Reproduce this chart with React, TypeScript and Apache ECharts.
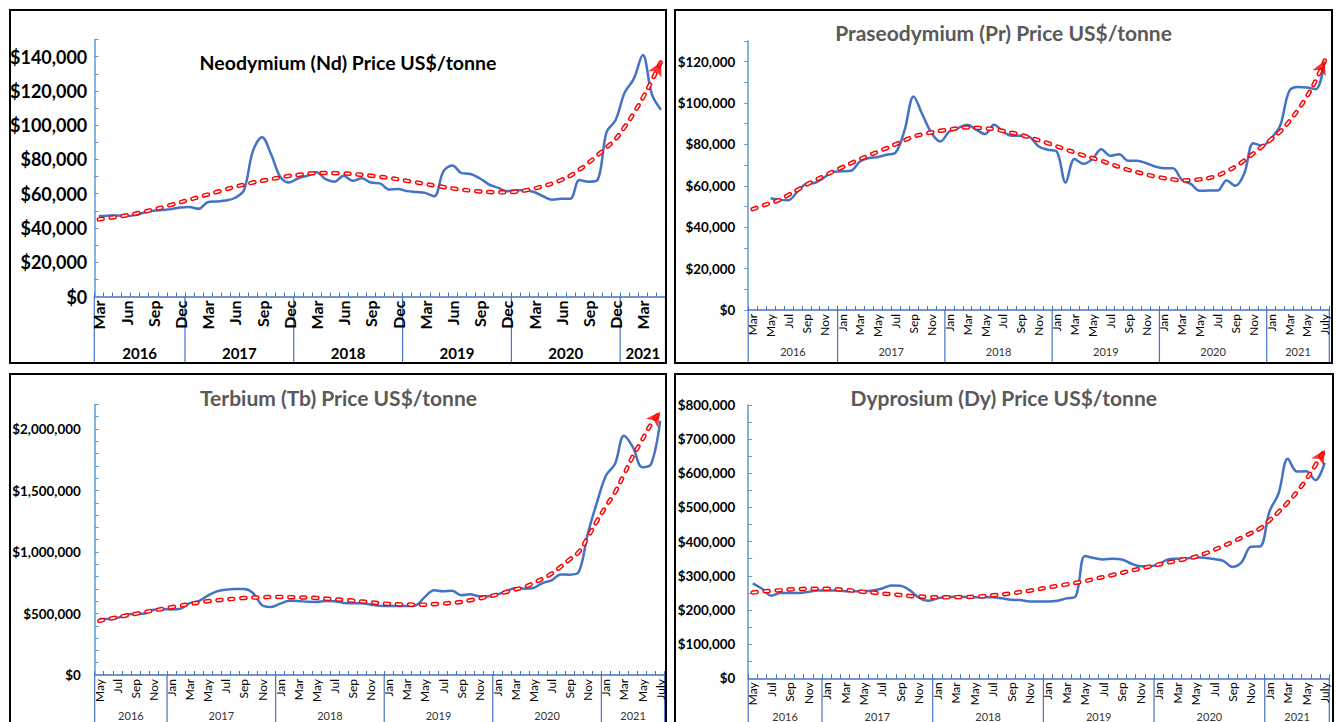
import React, { useEffect, useRef } from "react";
import * as echarts from "echarts";

const MONTH_LABELS = ["Jan", "Feb", "Mar", "Apr", "May", "Jun", "Jul", "Aug", "Sep", "Oct", "Nov", "Dec"];

// Neodymium: Mar 2016 – May 2021
const ndPrice = [
  47000, 47200, 47300, 47000, 47500, 49000, 50000, 50500, 51000, 52000,
  52200, 51200, 55000, 55500, 56000, 57500, 62000, 85000, 93000, 83000, 70000, 66500,
  69000, 70500, 72500, 68500, 67000, 70500, 67500, 69000, 66500, 66000, 62500, 62800,
  61500, 61000, 60500, 58500, 73000, 76500, 72000, 71500, 69000, 65500, 63500, 61500,
  62000, 62000, 61000, 58500, 56500, 57000, 57000, 68000, 67000, 68000, 96000, 103000,
  119000, 127000, 141000, 118000, 109000,
];
const ndTrend = [
  45000, 45800, 46500, 47300, 48300, 49500, 50700, 52000, 53500, 55000,
  56500, 58000, 59500, 61000, 62500, 64000, 65300, 66500, 67500, 68500, 69500, 70400,
  71000, 71600, 72000, 72100, 72000, 71800, 71500, 71000, 70500, 69900, 69200, 68400,
  67500, 66600, 65700, 64800, 63900, 63100, 62400, 61800, 61300, 61000, 60800, 60800,
  61200, 61900, 63000, 64400, 66000, 68000, 70500, 74000, 78000, 82500, 87000, 92000,
  99000, 107000, 116000, 126000, 137000,
];

// Praseodymium: Mar 2016 – Jul 2021
const prPrice = [
  null, null, 54000, 53200, 53000, 57200, 61000, 61500, 64000, 66800,
  67000, 67300, 71700, 73400, 73900, 75000, 76100, 87000, 103200, 94300, 85500, 81400,
  86200, 87900, 89500, 87100, 85000, 89500, 86200, 84200, 84200, 83500, 79000, 77400,
  76600, 61600, 72900, 70600, 72900, 77700, 74500, 75300, 72100, 72100, 71000, 69300,
  68500, 68500, 62900, 60900, 57600, 57700, 57700, 62600, 60000, 66100, 80600, 79300,
  83000, 89000, 105600, 107700, 107500, 106700, 121200,
];
const prTrend = [
  48700, 50200, 51700, 53200, 55600, 58000, 60500, 62700, 64800, 66900,
  68900, 70900, 72900, 74700, 76500, 78200, 80100, 82000, 83800, 84900, 85800, 86600,
  87200, 87800, 88200, 88000, 87700, 87400, 86500, 85600, 84600, 83300, 82000, 80600,
  79100, 77600, 76100, 74700, 73400, 72100, 70600, 69100, 67700, 66600, 65500, 64500,
  63700, 63100, 62600, 62700, 63100, 63700, 65000, 67000, 69300, 72300, 75600, 79000,
  82500, 86200, 91000, 96700, 103200, 111000, 120500,
];

// Terbium: May 2016 – Jul 2021
const tbPrice = [
  455000, 455000, 465000, 490000, 497000, 500000, 530000, 535000,
  533000, 540000, 585000, 600000, 645000, 680000, 694000, 699000, 699000, 667000, 567000, 553000,
  580000, 603000, 602000, 595000, 594000, 602000, 600000, 586000, 583000, 583000, 572000, 562000,
  560000, 560000, 560000, 567000, 635000, 689000, 681000, 684000, 648000, 656000, 640000, 640000,
  654000, 681000, 708000, 702000, 708000, 748000, 770000, 818000, 816000, 837000, 1148000, 1400000,
  1620000, 1715000, 1945000, 1850000, 1690000, 1715000, 2066000,
];
const tbTrend = [
  440000, 455000, 470000, 484000, 497000, 511000, 524000, 538000,
  551000, 564000, 577000, 589000, 600000, 607000, 614000, 620000, 626000, 629000, 632000, 634000,
  635000, 633000, 631000, 629000, 626000, 621000, 616000, 610000, 605000, 598000, 591000, 584000,
  578000, 575000, 573000, 572000, 572000, 576000, 581000, 587000, 594000, 608000, 622000, 638000,
  654000, 675000, 695000, 716000, 748000, 784000, 824000, 880000, 940000, 1000000, 1120000, 1250000,
  1370000, 1485000, 1630000, 1780000, 1910000, 2040000, 2140000,
];

// Dysprosium: May 2016 – Jul 2021
const dyPrice = [
  278000, 262000, 242000, 250000, 250000, 250000, 253000, 257000,
  257000, 257000, 255000, 255000, 255000, 257000, 263000, 272000, 271000, 258000, 236000, 227000,
  234000, 238000, 239000, 238000, 237000, 237000, 237000, 234000, 230000, 229000, 225000, 225000,
  225000, 227000, 234000, 240000, 358000, 352000, 348000, 350000, 348000, 336000, 328000, 328000,
  333000, 348000, 350000, 351000, 354000, 353000, 349000, 344000, 326000, 340000, 385000, 386000,
  487000, 541000, 643000, 605000, 606000, 580000, 631000,
];
const dyTrend = [
  251000, 254000, 256000, 258000, 260000, 261000, 262000, 262000,
  262000, 261000, 259000, 256000, 253000, 251000, 248000, 246000, 243600, 241000, 239500, 238000,
  237000, 237000, 237500, 238000, 238600, 240500, 243000, 245500, 248500, 252500, 256500, 261000,
  266000, 270500, 275000, 279500, 284500, 290500, 296500, 302500, 308800, 315000, 321000, 327000,
  333000, 338500, 344000, 350000, 355700, 365000, 376000, 387000, 399400, 412000, 425000, 438600,
  462000, 487000, 515000, 545600, 582000, 623700, 668000,
];

type Cat = { y: number; m: number };
function buildMonths(startYear: number, startMonth: number, count: number): Cat[] {
  const out: Cat[] = [];
  let y = startYear;
  let m = startMonth;
  for (let i = 0; i < count; i++) {
    out.push({ y, m });
    m++;
    if (m > 11) { m = 0; y++; }
  }
  return out;
}

const FONT = "Lato";

type Cfg = {
  left: number; top: number; width: number; height: number;
  title: string; titleColor: string; titleX: number; titleY: number; titleSize: number;
  startYear: number; startMonth: number;
  price: (number | null)[]; trend: number[];
  yMax: number; yInterval: number; yLabelEvery: number;
  yLabelSize: number; yLabelMargin: number; yTickInside: boolean;
  grid: { left: number; right: number; top: number; bottom: number };
  labelInterval: number; monthBold: boolean; monthSize: number;
  yearSize: number; yearBold: boolean; yearOffset: number; yearColor: string;
  lastLabel?: string;
};

const panels: Cfg[] = [
  {
    left: 9, top: 9, width: 658, height: 355,
    title: "Neodymium (Nd) Price US$/tonne", titleColor: "#000000", titleX: 339, titleY: 53.5, titleSize: 19.5,
    startYear: 2016, startMonth: 2, price: ndPrice, trend: ndTrend,
    yMax: 150000, yInterval: 10000, yLabelEvery: 20000, yLabelSize: 18, yLabelMargin: 7, yTickInside: true,
    grid: { left: 85.3, right: 1.5, top: 30.5, bottom: 67.5 },
    labelInterval: 2, monthBold: true, monthSize: 16, yearSize: 15, yearBold: true, yearOffset: 56, yearColor: "#000",
  },
  {
    left: 674, top: 9, width: 659, height: 355,
    title: "Praseodymium (Pr) Price US$/tonne", titleColor: "#595959", titleX: 329.5, titleY: 23.5, titleSize: 21,
    startYear: 2016, startMonth: 2, price: prPrice, trend: prTrend,
    yMax: 130000, yInterval: 10000, yLabelEvery: 20000, yLabelSize: 13.4, yLabelMargin: 13, yTickInside: false,
    grid: { left: 74.2, right: 3.7, top: 31.9, bottom: 54 },
    labelInterval: 1, monthBold: false, monthSize: 12, yearSize: 11, yearBold: false, yearOffset: 41, yearColor: "#333",
    lastLabel: "July",
  },
  {
    left: 9, top: 373, width: 658, height: 380,
    title: "Terbium (Tb) Price US$/tonne", titleColor: "#595959", titleX: 329.5, titleY: 24, titleSize: 21,
    startYear: 2016, startMonth: 4, price: tbPrice, trend: tbTrend,
    yMax: 2200000, yInterval: 100000, yLabelEvery: 500000, yLabelSize: 13.4, yLabelMargin: 14, yTickInside: true,
    grid: { left: 85.7, right: 2.3, top: 31.4, bottom: 78 },
    labelInterval: 1, monthBold: false, monthSize: 12, yearSize: 11, yearBold: false, yearOffset: 40, yearColor: "#333",
    lastLabel: "July",
  },
  {
    left: 674, top: 373, width: 660, height: 380,
    title: "Dyprosium (Dy) Price US$/tonne", titleColor: "#595959", titleX: 329.8, titleY: 24, titleSize: 21,
    startYear: 2016, startMonth: 4, price: dyPrice, trend: dyTrend,
    yMax: 800000, yInterval: 50000, yLabelEvery: 100000, yLabelSize: 13.4, yLabelMargin: 13, yTickInside: true,
    grid: { left: 74.2, right: 4.7, top: 32, bottom: 74.7 },
    labelInterval: 1, monthBold: false, monthSize: 12, yearSize: 11, yearBold: false, yearOffset: 38.5, yearColor: "#333",
    lastLabel: "July",
  },
];

function Panel({ cfg }: { cfg: Cfg }) {
  const ref = useRef<HTMLDivElement>(null);
  useEffect(() => {
    const chart = echarts.init(ref.current!, null, { renderer: "svg" });
    const cats = buildMonths(cfg.startYear, cfg.startMonth, cfg.trend.length);
    const catNames = cats.map((c) => `${c.y}-${c.m + 1}`);
    const n = cfg.trend.length;
    chart.setOption({
      animation: false,
      grid: { ...cfg.grid, containLabel: false, outerBoundsMode: "none" },
      xAxis: {
        type: "category",
        data: catNames,
        boundaryGap: true,
        axisLine: { show: true, lineStyle: { color: "#4472C4", width: 1.5 } },
        axisTick: { show: true, inside: true, length: 4, interval: 0, lineStyle: { color: "#4472C4", width: 1 } },
        axisLabel: {
          interval: cfg.labelInterval,
          rotate: 90,
          margin: 4,
          fontFamily: FONT,
          fontSize: cfg.monthSize,
          fontWeight: cfg.monthBold ? "bold" : "normal",
          color: "#000",
          hideOverlap: false,
          formatter: (_v: string, i: number) =>
            i === n - 1 && cfg.lastLabel ? cfg.lastLabel : MONTH_LABELS[cats[i].m],
        },
        splitLine: { show: false },
      },
      yAxis: {
        type: "value",
        min: 0,
        max: cfg.yMax,
        interval: cfg.yInterval,
        axisLine: { show: true, lineStyle: { color: "#5B9BD5", width: 1.5 } },
        axisTick: { show: true, inside: cfg.yTickInside, length: 4, lineStyle: { color: "#5B9BD5", width: 1 } },
        splitLine: { show: false },
        axisLabel: {
          margin: cfg.yLabelMargin,
          fontFamily: FONT,
          fontWeight: "bold",
          fontSize: cfg.yLabelSize,
          color: "#000",
          formatter: (v: number) => (v % cfg.yLabelEvery === 0 ? "$" + v.toLocaleString("en-US") : ""),
        },
      },
      series: [
        {
          id: "price",
          type: "line",
          data: cfg.price,
          smooth: 0.35,
          symbol: "none",
          connectNulls: false,
          lineStyle: { color: "#4472C4", width: 2.5 },
          z: 2,
        },
        {
          id: "trendRed",
          type: "line",
          data: cfg.trend,
          smooth: true,
          symbol: "none",
          lineStyle: { color: "#FF0000", width: 4.5, type: [4, 8], cap: "round" },
          z: 3,
        },
        {
          id: "trendWhite",
          type: "line",
          data: cfg.trend,
          smooth: true,
          symbol: "none",
          lineStyle: { color: "#FFFFFF", width: 1.6, type: [4, 8], cap: "round" },
          z: 4,
        },
        {
          id: "arrow",
          type: "scatter",
          data: [[n - 1, cfg.trend[n - 1]]],
          symbol: "arrow",
          symbolSize: [11, 14],
          itemStyle: { color: "#FF0000" },
          z: 5,
        },
      ],
    });

    const cx = (i: number) => chart.convertToPixel({ xAxisIndex: 0 }, i) as unknown as number;
    const axisY = chart.convertToPixel({ yAxisIndex: 0 }, 0) as unknown as number;
    const band = cx(1) - cx(0);
    const groups: { year: number; s: number; e: number }[] = [];
    cats.forEach((c, i) => {
      const g = groups[groups.length - 1];
      if (!g || g.year !== c.y) groups.push({ year: c.y, s: i, e: i });
      else g.e = i;
    });
    const graphics: any[] = [
      {
        type: "text",
        x: cfg.titleX,
        y: cfg.titleY,
        silent: true,
        style: {
          text: cfg.title,
          fill: cfg.titleColor,
          fontFamily: FONT,
          fontWeight: "bold",
          fontSize: cfg.titleSize,
          align: "center",
          verticalAlign: "middle",
        },
      },
    ];
    const sepLine = (x: number) => ({
      type: "line",
      silent: true,
      shape: { x1: x, y1: axisY, x2: x, y2: cfg.height },
      style: { stroke: "#4472C4", lineWidth: 1.2 },
    });
    groups.forEach((g) => {
      graphics.push(sepLine(cx(g.s) - band / 2));
      graphics.push({
        type: "text",
        silent: true,
        x: (cx(g.s) + cx(g.e)) / 2,
        y: axisY + cfg.yearOffset,
        style: {
          text: String(g.year),
          fill: cfg.yearColor,
          fontFamily: FONT,
          fontWeight: cfg.yearBold ? "bold" : "normal",
          fontSize: cfg.yearSize,
          align: "center",
          verticalAlign: "middle",
        },
      });
    });
    graphics.push(sepLine(cx(n - 1) + band / 2));

    const p1 = chart.convertToPixel({ gridIndex: 0 }, [n - 2, cfg.trend[n - 2]]) as number[];
    const p2 = chart.convertToPixel({ gridIndex: 0 }, [n - 1, cfg.trend[n - 1]]) as number[];
    const ang = (Math.atan2(p2[0] - p1[0], -(p2[1] - p1[1])) * 180) / Math.PI;

    chart.setOption({
      graphic: graphics,
      series: [{ id: "arrow", symbolRotate: -ang }],
    });
    return () => chart.dispose();
  }, [cfg]);

  return (
    <div style={{ position: "absolute", left: cfg.left, top: cfg.top, width: cfg.width, height: cfg.height }}>
      <div ref={ref} style={{ position: "absolute", left: 0, top: 0, width: cfg.width, height: cfg.height }} />
      <div
        style={{
          position: "absolute",
          left: 0,
          top: 0,
          width: cfg.width,
          height: cfg.height,
          boxSizing: "border-box",
          border: "2px solid #000",
          pointerEvents: "none",
        }}
      />
    </div>
  );
}

export default function App() {
  return (
    <div
      style={{
        position: "absolute",
        left: 0,
        top: 0,
        width: 1336,
        height: 722,
        overflow: "hidden",
        background: "#fff",
      }}
    >
      {panels.map((p, i) => (
        <Panel key={i} cfg={p} />
      ))}
    </div>
  );
}
